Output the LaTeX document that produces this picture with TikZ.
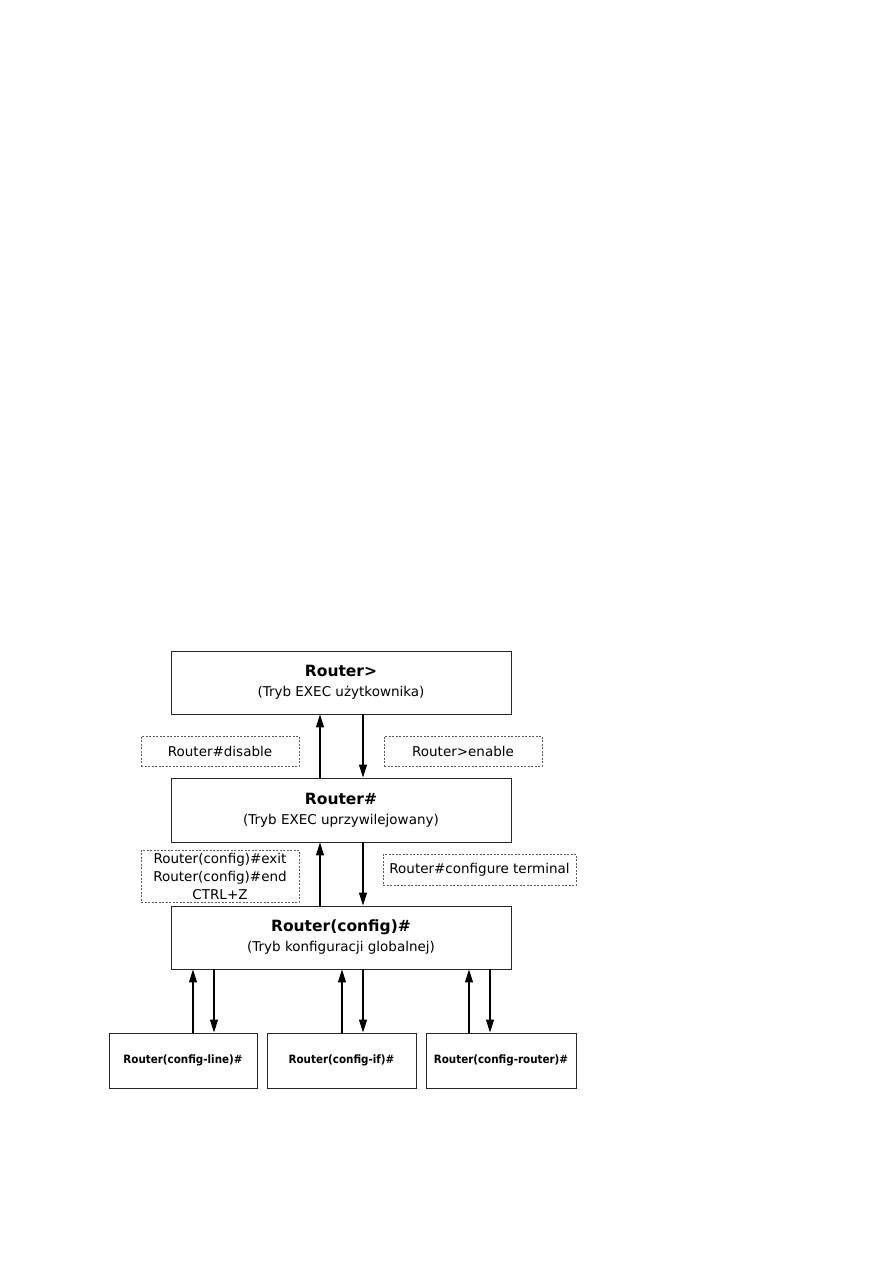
\documentclass[tikz,border=0pt]{standalone}
\usepackage{fontspec}
\setmainfont{DejaVu Sans}
\newfontfamily\condfont{DejaVu Sans Condensed}
\usetikzlibrary{positioning,arrows.meta,calc}
\newcommand{\modetitle}[1]{{\fontsize{15.5}{18}\selectfont\bfseries #1}}

\begin{document}
\begin{tikzpicture}[x=1pt, y=-1pt, every node/.style={font=\fontsize{13.5}{18}\selectfont, align=center},
  modebox/.style={draw=black!85, line width=0.9pt, minimum width=340pt, minimum height=63pt, inner sep=0pt},
  subbox/.style={draw=black!85, line width=0.9pt, minimum width=148pt, minimum height=55pt, inner sep=0pt, font=\condfont\fontsize{11.5}{13}\selectfont\bfseries},
  cmdbox/.style={draw=black!65, dash pattern=on 2pt off 1.5pt, line width=0.7pt, minimum width=158pt, minimum height=30pt, inner sep=0pt},
  arr/.style={-{Triangle[length=13pt,width=8pt]}, line width=1.2pt}]
  \useasboundingbox (0,0) rectangle (893,1263);
  % operating modes
  \node[modebox] (user) at (341,682.5) {\modetitle{Router>}\\[2pt](Tryb EXEC użytkownika)};
  \node[modebox, minimum height=64pt] (priv) at (341,810) {\modetitle{Router\#}\\[2pt](Tryb EXEC uprzywilejowany)};
  \node[modebox] (cfg) at (341,937.5) {\modetitle{Router(config)\#}\\[2pt](Tryb konfiguracji globalnej)};
  \node[subbox] (line) at (183,1060.5) {Router(config-line)\#};
  \node[subbox, minimum width=149pt] (iface) at (341.5,1060.5) {Router(config-if)\#};
  \node[subbox, minimum width=150pt] (rtr) at (501,1060.5) {Router(config-router)\#};
  % commands
  \node[cmdbox] (disable) at (220,751) {Router\#disable};
  \node[cmdbox] (enable) at (463,751) {Router>enable};
  \node[cmdbox, minimum height=52pt] (leave) at (220,876) {Router(config)\#exit\\Router(config)\#end\\CTRL+Z};
  \node[cmdbox, minimum width=193pt, minimum height=31pt] (confterm) at (479.5,869.5) {Router\#configure terminal};
  % transitions
  \draw[arr] ([xshift=-21pt]priv.north) -- ([xshift=-21pt]user.south);
  \draw[arr] ([xshift=22pt]user.south) -- ([xshift=22pt]priv.north);
  \draw[arr] ([xshift=-21pt]cfg.north) -- ([xshift=-21pt]priv.south);
  \draw[arr] ([xshift=22pt]priv.south) -- ([xshift=22pt]cfg.north);
  \draw[arr] ([xshift=10pt]line.north) -- ([xshift=10pt]line.north |- cfg.south);
  \draw[arr] ([xshift=31pt]line.north |- cfg.south) -- ([xshift=31pt]line.north);
  \draw[arr] ([xshift=0.5pt]iface.north) -- ([xshift=0.5pt]iface.north |- cfg.south);
  \draw[arr] ([xshift=21.5pt]iface.north |- cfg.south) -- ([xshift=21.5pt]iface.north);
  \draw[arr] ([xshift=-32pt]rtr.north) -- ([xshift=-32pt]rtr.north |- cfg.south);
  \draw[arr] ([xshift=-11pt]rtr.north |- cfg.south) -- ([xshift=-11pt]rtr.north);
\end{tikzpicture}
\end{document}
